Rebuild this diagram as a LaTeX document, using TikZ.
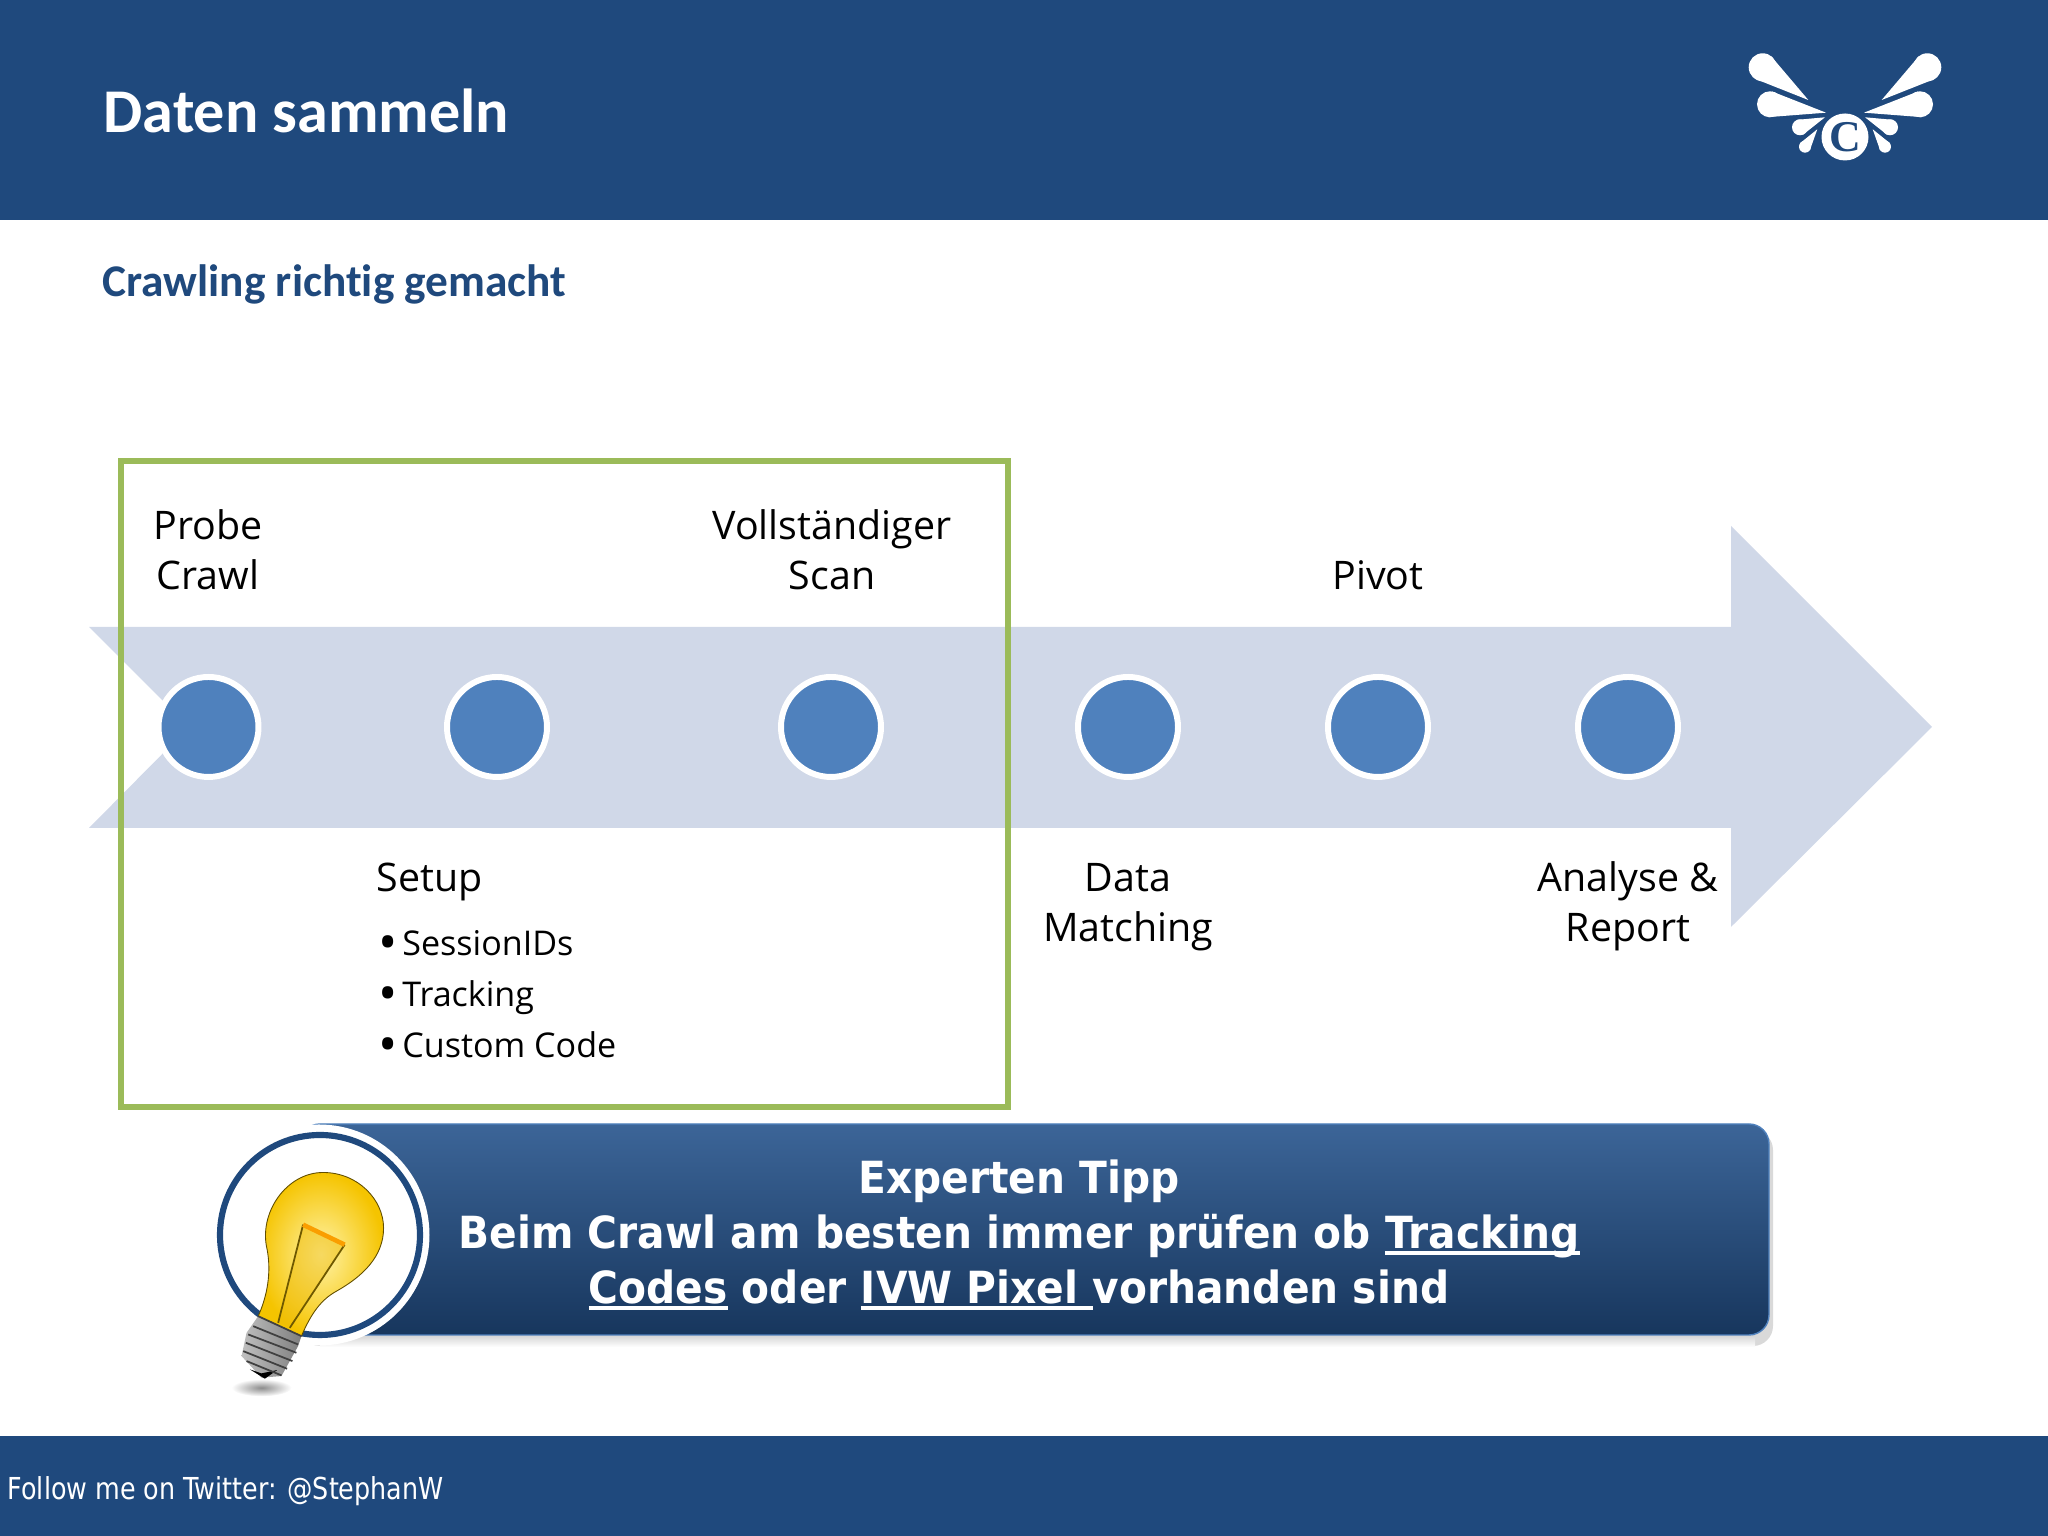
\documentclass[tikz,border=0pt]{standalone}
\usepackage{fontspec}
\setmainfont{Open Sans}
\newfontfamily\headfont[Ligatures=NoCommon]{Carlito}
\newfontfamily\tippfont[FakeStretch=0.92]{DejaVu Sans}
\newfontfamily\footfont[FakeStretch=0.84]{DejaVu Sans}
\newfontfamily\logofont{Liberation Serif}

\definecolor{slideblue}{HTML}{1F497D}
\definecolor{arrowblue}{HTML}{D0D8E8}
\definecolor{dotblue}{HTML}{4F81BD}
\definecolor{boxgreen}{HTML}{9BBB59}
\definecolor{tipptop}{HTML}{3C6598}
\definecolor{tippbottom}{HTML}{17365D}
\definecolor{bulblight}{HTML}{FFF3A8}
\definecolor{bulbgold}{HTML}{F5C400}

\tikzset{
    steplabel/.style={align=center,inner sep=0pt,font=\fontsize{11.2}{14.2}\selectfont},
    itemlabel/.style={anchor=base west,inner sep=0pt,font=\fontsize{9.7}{11}\selectfont},
    stepdot/.style={circle,fill=dotblue,draw=white,line width=1.7pt,minimum size=1.0cm,inner sep=0pt},
    bulbline/.style={draw=black!60!bulbgold,line width=0.25pt}
}

\newcommand{\logopetal}[3]{
    \fill[white] (#1) -- ($(#2)!#3!90:(#1)$) -- ($(#2)!#3!-90:(#1)$) -- cycle;
    \fill[white] (#2) circle (#3);
}
\newcommand{\logowing}{
    \logopetal{-0.367,0.37}{-0.823,0.697}{0.14cm}
    \logopetal{-0.19,0.243}{-0.75,0.327}{0.13cm}
    \logopetal{-0.20,0.197}{-0.45,0.097}{0.08cm}
    \logopetal{-0.277,0.077}{-0.40,-0.097}{0.06cm}
}
\newcommand{\itemdot}{\raisebox{-0.13em}{\scalebox{1.5}{\textbullet}}\hspace{0.13em}}
\newsavebox\tippbox
\newcommand{\tippline}[1]{\sbox\tippbox{#1}\rlap{\rule[-0.15em]{\wd\tippbox}{0.09em}}\usebox\tippbox}

\usetikzlibrary{calc}

\begin{document}
\begin{tikzpicture}

    \useasboundingbox (0,0) rectangle (20.48,15.36);

    % header and footer
    \fill[slideblue] (0,13.16) rectangle (20.48,15.36);
    \fill[slideblue] (0,0) rectangle (20.48,1.0);
    \node[anchor=west,inner sep=0pt,text=white,font=\headfont\fontsize{17.7}{20}\selectfont\bfseries] (title) at (1.03,14.25) {Daten sammeln};
    \node[anchor=west,inner sep=0pt,text=slideblue,font=\headfont\fontsize{12.9}{14}\selectfont\bfseries] (subtitle) at (1.02,12.515) {Crawling richtig gemacht};
    \node[anchor=west,inner sep=0pt,text=white,font=\footfont\fontsize{8.6}{10}\selectfont] (footer) at (0.07,0.45) {Follow me on Twitter: @StephanW};

    % logo
    \begin{scope}[shift={(18.45,13.99)}]
        \logowing
        \begin{scope}[xscale=-1]
            \logowing
        \end{scope}
        \fill[white] (0,0) circle (0.235);
        \node[inner sep=0pt,text=slideblue,font=\logofont\fontsize{12.5}{12}\selectfont\bfseries] (logoc) at (0,0) {C};
    \end{scope}

    % big arrow
    \fill[arrowblue] (0.89,9.09) -- (1.89,8.09) -- (0.89,7.08) -- (17.31,7.08) -- (17.31,6.09)
        -- (19.32,8.09) -- (17.31,10.10) -- (17.31,9.09) -- cycle;

    \node[stepdot] (dotprobe) at (2.085,8.09) {};
    \node[stepdot] (dotsetup) at (4.97,8.09) {};
    \node[stepdot] (dotscan) at (8.31,8.09) {};
    \node[stepdot] (dotmatch) at (11.28,8.09) {};
    \node[stepdot] (dotpivot) at (13.78,8.09) {};
    \node[stepdot] (dotreport) at (16.28,8.09) {};

    \draw[boxgreen,line width=1.5pt] (1.21,4.29) rectangle (10.08,10.75);

    \node[steplabel] (probe) at (2.08,9.86) {Probe\\Crawl};
    \node[steplabel] (scan) at (8.32,9.86) {Vollständiger\\Scan};
    \node[steplabel] (pivot) at (13.78,9.61) {Pivot};
    \node[steplabel] (match) at (11.28,6.29) {Data\\Matching};
    \node[steplabel] (report) at (16.28,6.30) {Analyse \&\\Report};
    \node[steplabel,anchor=west] (setup) at (3.76,6.54) {Setup};

    \node[itemlabel] (itema) at (3.78,5.80) {\itemdot SessionIDs};
    \node[itemlabel] (itemb) at (3.78,5.29) {\itemdot Tracking};
    \node[itemlabel] (itemc) at (3.78,4.78) {\itemdot Custom Code};

    % tip banner
    \fill[black!15,rounded corners=0.2cm] (3.0,1.90) rectangle (17.73,4.06);
    \shade[top color=black!30,bottom color=white] (3.2,1.89) rectangle (17.55,2.1);
    \shade[top color=tipptop,bottom color=tippbottom,draw=dotblue,line width=0.4pt,rounded corners=0.2cm] (3.0,2.01) rectangle (17.69,4.12);
    \fill[white] (3.19,3.01) circle (1.105);
    \draw[slideblue,line width=1.75pt] (3.2,3.01) circle (1.0);
    \node[inner sep=0pt,align=center,text=white,font=\tippfont\fontsize{12.6}{15.6}\selectfont\bfseries] (tipp) at (10.19,3.01)
        {Experten Tipp\\Beim Crawl am besten immer prüfen ob \tippline{Tracking}\\\tippline{Codes} oder \tippline{IVW Pixel\ }vorhanden sind};

    % light bulb
    \begin{scope}[shift={(1.9,4.36)},x=0.003333cm,y=-0.003333cm]
        \shade[inner color=black!45,outer color=white] (215,865) ellipse (90 and 26);
        \shade[inner color=bulblight,outer color=bulbgold] (205,650)
            .. controls (232,590) and (245,520) .. (232,450)
            .. controls (205,340) and (290,218) .. (400,218)
            .. controls (505,218) and (582,300) .. (582,385)
            .. controls (582,470) and (520,530) .. (440,575)
            .. controls (395,600) and (365,640) .. (335,710) -- cycle;
        \draw[bulbline] (205,650)
            .. controls (232,590) and (245,520) .. (232,450)
            .. controls (205,340) and (290,218) .. (400,218)
            .. controls (505,218) and (582,300) .. (582,385)
            .. controls (582,470) and (520,530) .. (440,575)
            .. controls (395,600) and (365,640) .. (335,710) -- cycle;
        \fill[bulbgold!85!brown,opacity=0.45] (340,375) -- (465,435) -- (300,685) -- (265,670) -- cycle;
        \draw[black!55!bulbgold,line width=0.5pt] (265,670) -- (340,375);
        \draw[black!55!bulbgold,line width=0.5pt] (300,685) -- (465,435);
        \draw[orange!55!bulbgold,line width=1.3pt] (340,375) -- (465,435);
        \shade[left color=black!25,right color=black!50] (205,650) -- (335,710) -- (325,740)
            -- (275,830) -- (215,835) -- (155,770) -- (170,700) -- cycle;
        \fill[black] (180,810) -- (215,822) -- (262,812) -- (225,838) -- cycle;
        \draw[black!75,line width=0.5pt] (205,650) -- (335,710);
        \draw[black!75,line width=0.5pt] (190,680) -- (325,735);
        \draw[black!75,line width=0.5pt] (175,705) -- (320,760);
        \draw[black!75,line width=0.5pt] (168,730) -- (308,785);
        \draw[black!75,line width=0.5pt] (160,755) -- (292,808);
        \draw[black!75,line width=0.5pt] (170,785) -- (275,828);
    \end{scope}

\end{tikzpicture}
\end{document}
